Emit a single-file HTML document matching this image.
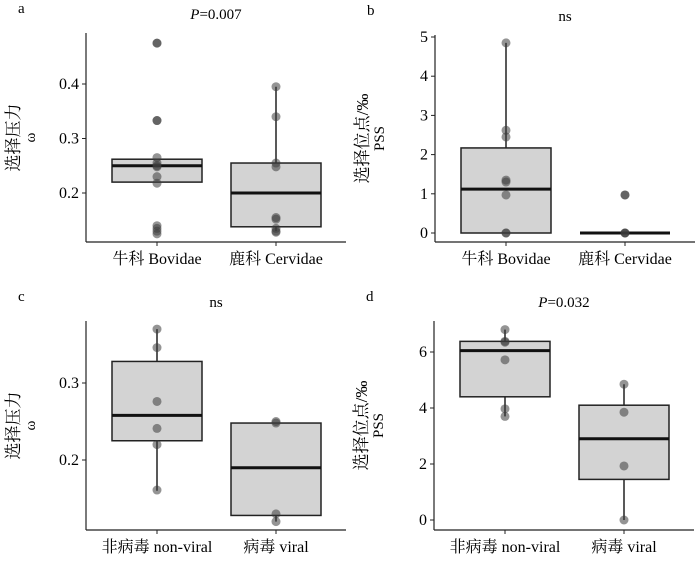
<!DOCTYPE html>
<html><head><meta charset="utf-8"><style>
body{margin:0;background:#fff}
svg text{font-family:"Liberation Serif","Noto Serif CJK SC",serif;fill:#000}
</style></head><body>
<svg id="fig" width="700" height="563" viewBox="0 0 700 563"></svg>
<script>
// Panel a data (omega, Bovidae vs Cervidae)
const aCategories = ["牛科 Bovidae", "鹿科 Cervidae"];
const aBoxes = [[0.22,0.22,0.25,0.262,0.262],[0.13,0.138,0.2,0.255,0.395]];
const aPoints = [[0.475,0.475,0.333,0.333,0.265,0.255,0.25,0.248,0.23,0.218,0.14,0.135,0.13,0.125],[0.395,0.34,0.255,0.248,0.155,0.152,0.135,0.13,0.128]];
const aTicks = [0.2,0.3,0.4];
// Panel b data (PSS)
const bCategories = ["牛科 Bovidae", "鹿科 Cervidae"];
const bBoxes = [[0,0,1.12,2.17,4.85],[0,0,0,0,0]];
const bPoints = [[4.85,2.62,2.45,1.35,1.3,0.97,0,0],[0.97,0.97,0,0,0]];
const bTicks = [0,1,2,3,4,5];
// Panel c data
const cCategories = ["非病毒 non-viral", "病毒 viral"];
const cBoxes = [[0.16,0.225,0.258,0.328,0.37],[0.12,0.128,0.19,0.248,0.248]];
const cPoints = [[0.37,0.346,0.276,0.241,0.22,0.161],[0.25,0.248,0.13,0.12]];
const cTicks = [0.2,0.3];
// Panel d data
const dCategories = ["非病毒 non-viral", "病毒 viral"];
const dBoxes = [[3.7,4.4,6.05,6.38,6.8],[0,1.45,2.9,4.1,4.85]];
const dPoints = [[6.8,6.38,6.35,5.72,3.97,3.7],[4.85,3.85,1.93,0]];
const dTicks = [0,2,4,6];

const NS="http://www.w3.org/2000/svg";
const svg=document.getElementById('fig');
function mk(tag,attrs,parent,text){const e=document.createElementNS(NS,tag);for(const k in attrs)e.setAttribute(k,attrs[k]);if(text!==undefined)e.textContent=text;(parent||svg).appendChild(e);return e;}

function panel(o){
  const g=mk('g',{});
  
  
  const y=v=>o.y0+(v-o.v0)*(o.y1-o.y0)/(o.v1-o.v0);
  const xs=[o.ax+71,o.ax+190];
  const yl=mk('line',{x1:o.ax,y1:o.top,x2:o.ax,y2:o.bottom,stroke:'#222','stroke-width':1.2},g);
  
  
  const xl=mk('line',{x1:o.ax,y1:o.bottom,x2:o.ax+260,y2:o.bottom,stroke:'#222','stroke-width':1.2},g);
  
  
  o.ticks.forEach(t=>{
    mk('line',{x1:o.ax-4,x2:o.ax,y1:y(t),y2:y(t),stroke:'#222'},g);
    const tl=mk('text',{x:o.ax-7,y:y(t)+5,'text-anchor':'end','font-size':16},g,String(t));
    
    
  });
  o.cats.forEach((c,i)=>{
    mk('line',{x1:xs[i],x2:xs[i],y1:o.bottom,y2:o.bottom+4,stroke:'#222'},g);
    const cl=mk('text',{x:xs[i],y:o.bottom+22,'text-anchor':'middle','font-size':16},g,c);
    
    
    const b=o.boxes[i];
    const bg=mk('g',{},g);
    
    
    mk('line',{x1:xs[i],x2:xs[i],y1:y(b[0]),y2:y(b[4]),stroke:'#222','stroke-width':1.5},bg);
    mk('rect',{x:xs[i]-45,y:y(b[3]),width:90,height:Math.max(0,y(b[1])-y(b[3])),fill:'#d3d3d3',stroke:'#222','stroke-width':1.5},bg);
    mk('line',{x1:xs[i]-45,x2:xs[i]+45,y1:y(b[2]),y2:y(b[2]),stroke:'#111','stroke-width':3},bg);
    o.pts[i].forEach(p=>{
      const c2=mk('circle',{cx:xs[i],cy:y(p),r:4.5,fill:'rgba(60,60,60,0.55)'},g);
      
      
    });
  });
  const lab=mk('text',{x:o.ax-68,y:o.top-20,'font-size':15},g,o.id);
  
  
  const tt=mk('text',{x:o.ax+130,y:o.top-14,'text-anchor':'middle','font-size':15},g);
  
  
  if(o.title[0]){mk('tspan',{'font-style':'italic'},tt,'P');mk('tspan',{},tt,o.title[1]);}else tt.textContent=o.title[1];
  const cy=(o.top+o.bottom)/2;
  const yt=mk('text',{transform:`translate(${o.ax-64},${cy}) rotate(-90)`,'text-anchor':'middle','font-size':17},g);
  
  
  mk('tspan',{x:0,dy:-3},yt,o.ylab[0]);
  mk('tspan',{x:0,dy:16,'font-size':15},yt,o.ylab[1]);
}
panel({id:'a',ax:86,top:33,bottom:242,v0:0.2,y0:193,v1:0.4,y1:84,ticks:aTicks,cats:aCategories,boxes:aBoxes,pts:aPoints,title:[true,'=0.007'],ylab:['选择压力','ω']});
panel({id:'b',ax:435,top:35,bottom:242,v0:0,y0:233,v1:5,y1:37,ticks:bTicks,cats:bCategories,boxes:bBoxes,pts:bPoints,title:[false,'ns'],ylab:['选择位点/‰','PSS']});
panel({id:'c',ax:86,top:321,bottom:530,v0:0.2,y0:460,v1:0.3,y1:383,ticks:cTicks,cats:cCategories,boxes:cBoxes,pts:cPoints,title:[false,'ns'],ylab:['选择压力','ω']});
panel({id:'d',ax:434,top:321,bottom:530,v0:0,y0:520,v1:6,y1:352,ticks:dTicks,cats:dCategories,boxes:dBoxes,pts:dPoints,title:[true,'=0.032'],ylab:['选择位点/‰','PSS']});
</script>
</body></html>
